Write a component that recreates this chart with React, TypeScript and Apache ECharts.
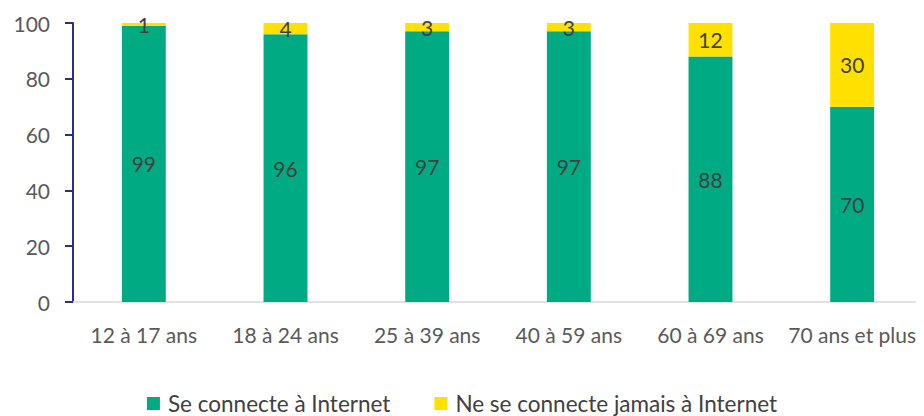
import React, { useEffect, useRef } from "react";
import * as echarts from "echarts";

const categories = ["12 à 17 ans", "18 à 24 ans", "25 à 39 ans", "40 à 59 ans", "60 à 69 ans", "70 ans et plus"];
const connecte = [99, 96, 97, 97, 88, 70];
const jamais = [1, 4, 3, 3, 12, 30];
const seriesNames = ["Se connecte à Internet", "Ne se connecte jamais à Internet"];

const FONT = "Lato, 'Open Sans', sans-serif";

export default function App() {
  const ref = useRef<HTMLDivElement>(null);
  useEffect(() => {
    if (!ref.current) return;
    const chart = echarts.init(ref.current, null, { renderer: "svg" });
    const labelStyle = {
      show: true,
      position: "inside",
      color: "#404040",
      fontSize: 21,
      fontFamily: FONT,
    };
    chart.setOption({
      animation: false,
      textStyle: { fontFamily: FONT },
      grid: { left: 73, right: 1, top: 23, bottom: 114, containLabel: false },
      legend: {
        top: 387,
        left: "center",
        itemWidth: 13,
        itemHeight: 13,
        itemGap: 44,
        icon: "rect",
        textStyle: { fontSize: 22.5, lineHeight: 22, padding: [0, 0, 0, 3], color: "#404040", fontFamily: FONT },
        data: seriesNames,
      },
      xAxis: {
        type: "category",
        data: categories,
        axisLine: { show: true, lineStyle: { color: "#D9D9D9", width: 1.5 } },
        axisTick: { show: false },
        axisLabel: { interval: 0, fontSize: 21, color: "#595959", margin: 22, fontFamily: FONT },
      },
      yAxis: {
        type: "value",
        min: 0,
        max: 100,
        interval: 20,
        axisLine: { show: true, lineStyle: { color: "#2B2D86", width: 2 } },
        axisTick: { show: true, length: 8, lineStyle: { color: "#2B2D86", width: 2 } },
        splitLine: { show: false },
        axisLabel: { fontSize: 21, color: "#595959", margin: 23, fontFamily: FONT },
      },
      series: [
        {
          name: seriesNames[0],
          type: "bar",
          stack: "total",
          data: connecte,
          barWidth: "31%",
          itemStyle: { color: "#00AB84" },
          label: labelStyle,
        },
        {
          name: seriesNames[1],
          type: "bar",
          stack: "total",
          data: jamais,
          barWidth: "31%",
          itemStyle: { color: "#FFE000" },
          label: labelStyle,
        },
      ],
    });
    return () => chart.dispose();
  }, []);
  return <div ref={ref} style={{ width: 924, height: 416, marginLeft: -8, marginTop: -8 }} />;
}
